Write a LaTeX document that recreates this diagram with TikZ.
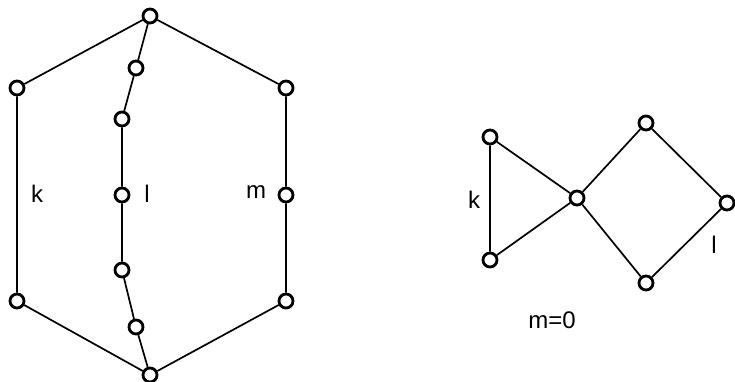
\documentclass[tikz,border=0pt]{standalone}
\usepackage{fontspec}
\setmainfont{Liberation Sans}
\begin{document}
\begin{tikzpicture}[x=1pt,y=-1pt,
  vtx/.style={circle,draw,line width=2.8pt,fill=white,minimum size=14pt,inner sep=0pt},
  edge/.style={line width=1.7pt},
  lbl/.style={font=\fontsize{24}{26}\selectfont,inner sep=0pt}]
\useasboundingbox (0,0) rectangle (735,382);
% left graph
\node[vtx] (t) at (150,16) {};
\node[vtx] (b) at (150,375) {};
\node[vtx] (l1) at (17,88) {};
\node[vtx] (l2) at (17,301) {};
\node[vtx] (r1) at (286,88) {};
\node[vtx] (r2) at (286,195) {};
\node[vtx] (r3) at (286,301) {};
\node[vtx] (c1) at (136,68) {};
\node[vtx] (c2) at (122,119) {};
\node[vtx] (c3) at (122,195) {};
\node[vtx] (c4) at (122,270) {};
\node[vtx] (c5) at (136,327) {};
\draw[edge] (t) -- (l1) -- (l2) -- (b);
\draw[edge] (t) -- (r1) -- (r2) -- (r3) -- (b);
\draw[edge] (t) -- (c1) -- (c2) -- (c3) -- (c4) -- (c5) -- (b);
\node[lbl] (k1) at (37,194) {k};
\node[lbl] (ll1) at (147,194) {l};
\node[lbl] (m1) at (256,192) {m};
% right graph
\node[vtx] (a) at (490,137) {};
\node[vtx] (d) at (490,260) {};
\node[vtx] (e) at (577,198) {};
\node[vtx] (f) at (646,123) {};
\node[vtx] (g) at (646,283) {};
\node[vtx] (h) at (727,203) {};
\draw[edge] (a) -- (d) -- (e) -- (a);
\draw[edge] (e) -- (f) -- (h) -- (g) -- (e);
\node[lbl] (k2) at (474,200) {k};
\node[lbl] (ll2) at (714,245) {l};
\node[lbl] (m2) at (552,320) {m=0};
\end{tikzpicture}
\end{document}
